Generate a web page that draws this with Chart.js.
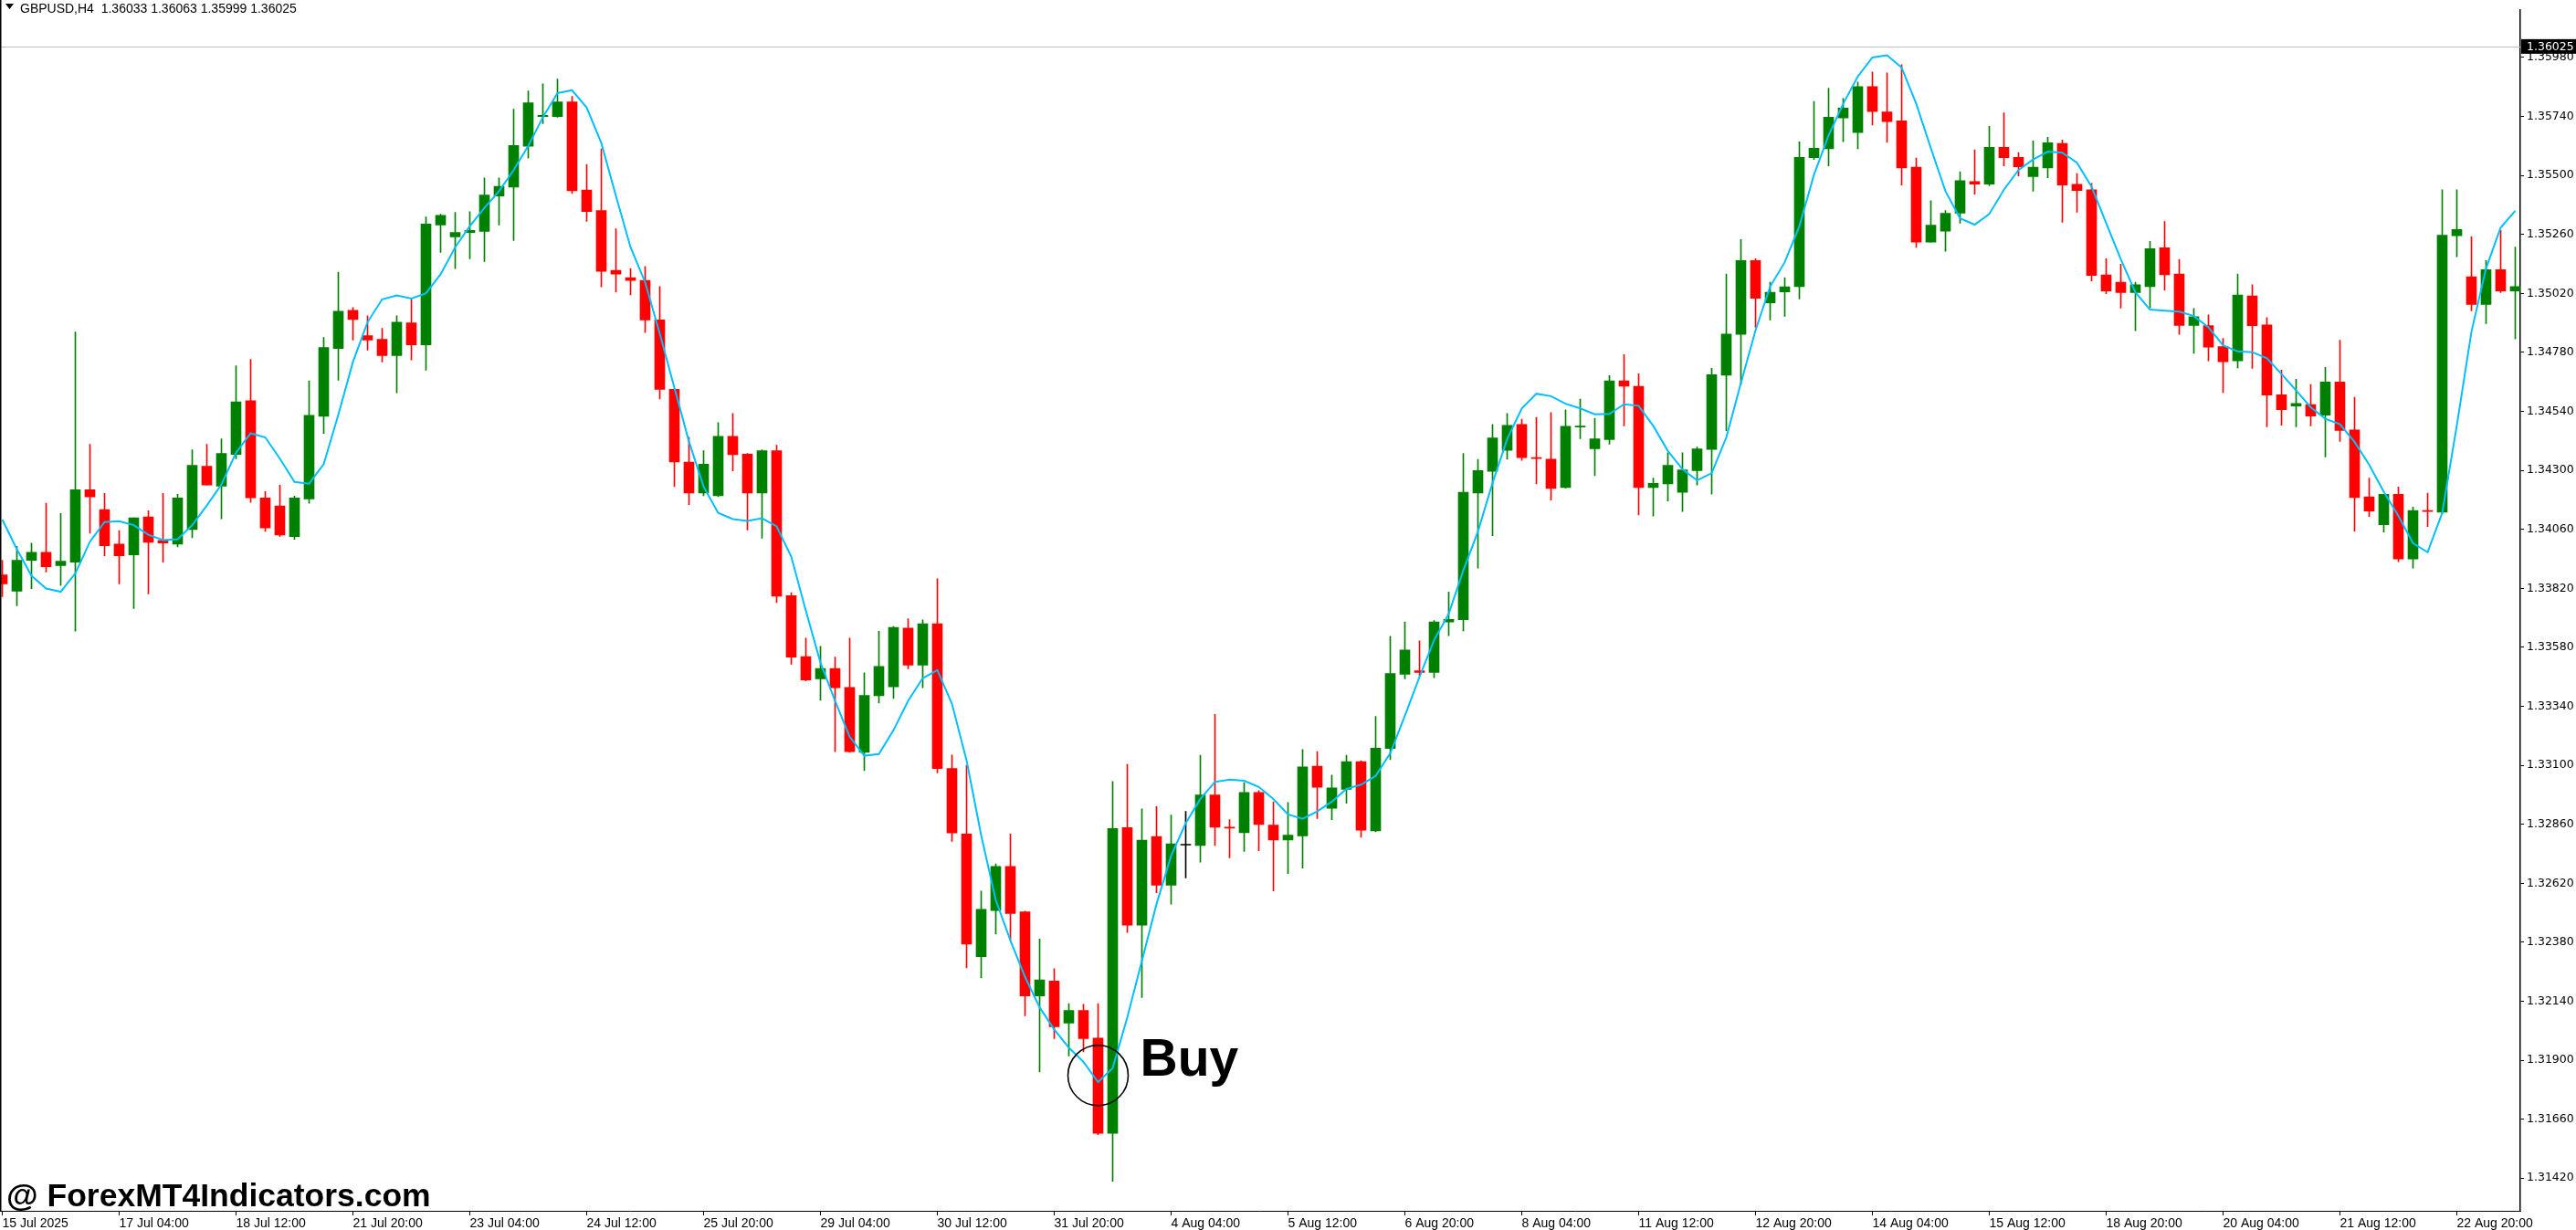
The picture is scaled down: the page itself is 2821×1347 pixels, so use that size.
<!DOCTYPE html>
<html>
<head>
<meta charset="utf-8">
<title>GBPUSD,H4</title>
<script src="https://cdn.jsdelivr.net/npm/chart.js@4.4.1/dist/chart.umd.min.js"></script>
<style>
  html, body { margin: 0; padding: 0; background: #fff; }
  #wrap { width: 2821px; height: 1347px; }
</style>
</head>
<body>
<div id="wrap"><canvas id="gbpChart" width="2821" height="1347"></canvas></div>
<script>
// header / current quote
const symbolTitle = 'GBPUSD,H4';
const headerQuote = ['1.36033', '1.36063', '1.35999', '1.36025'];
const currentPrice = 1.36025;

// H4 candles, 15 Jul 2025 20:00 .. 25 Aug 2025 12:00
const opens = [
  1.33875, 1.33808, 1.33934, 1.33967, 1.33912, 1.33926, 1.34221, 1.34140, 1.34000, 1.33956,
  1.34111, 1.34015, 1.34000, 1.34059, 1.34317, 1.34236, 1.34365, 1.34583, 1.34188, 1.34155,
  1.34030, 1.34184, 1.34520, 1.34796, 1.34951, 1.34848, 1.34833, 1.34767, 1.34900, 1.34811,
  1.35298, 1.35250, 1.35268, 1.35272, 1.35416, 1.35453, 1.35619, 1.35740, 1.35740, 1.35799,
  1.35441, 1.35357, 1.35114, 1.35084, 1.35073, 1.34912, 1.34630, 1.34334, 1.34208, 1.34197,
  1.34439, 1.34366, 1.34208, 1.34380, 1.33790, 1.33542, 1.33452, 1.33494, 1.33417, 1.33153,
  1.33383, 1.33419, 1.33658, 1.33507, 1.33676, 1.33087, 1.32820, 1.32321, 1.32509, 1.32688,
  1.32504, 1.32161, 1.32222, 1.32051, 1.32102, 1.31990, 1.31602, 1.32846, 1.32449, 1.32810,
  1.32612, 1.32775, 1.32774, 1.32979, 1.32848, 1.32826, 1.32989, 1.32857, 1.32796, 1.32813,
  1.33096, 1.32925, 1.33002, 1.33115, 1.32833, 1.33168, 1.33470, 1.33485, 1.33478, 1.33683,
  1.33692, 1.34208, 1.34296, 1.34382, 1.34487, 1.34352, 1.34346, 1.34230, 1.34476, 1.34388,
  1.34425, 1.34664, 1.34642, 1.34230, 1.34245, 1.34211, 1.34299, 1.34385, 1.34687, 1.34853,
  1.35154, 1.34982, 1.35026, 1.35048, 1.35572, 1.35609, 1.35734, 1.35675, 1.35862, 1.35759,
  1.35722, 1.35534, 1.35229, 1.35273, 1.35347, 1.35475, 1.35465, 1.35615, 1.35574, 1.35495,
  1.35531, 1.35630, 1.35464, 1.35442, 1.35095, 1.35066, 1.35023, 1.35048, 1.35206, 1.35099,
  1.34890, 1.34889, 1.34804, 1.34746, 1.35010, 1.34892, 1.34608, 1.34562, 1.34568, 1.34525,
  1.34660, 1.34465, 1.34192, 1.34079, 1.34203, 1.33939, 1.34135, 1.34130, 1.35255, 1.35088,
  1.34975, 1.35117, 1.35030
];
const highs = [
  1.33934, 1.33991, 1.34004, 1.34166, 1.34125, 1.34863, 1.34406, 1.34206, 1.34055, 1.34107,
  1.34136, 1.34206, 1.34203, 1.34384, 1.34406, 1.34428, 1.34726, 1.34752, 1.34214, 1.34240,
  1.34195, 1.34664, 1.34841, 1.35106, 1.34962, 1.34929, 1.34878, 1.34929, 1.34999, 1.35331,
  1.35342, 1.35350, 1.35353, 1.35490, 1.35490, 1.35770, 1.35844, 1.35873, 1.35892, 1.35822,
  1.35545, 1.35608, 1.35283, 1.35121, 1.35130, 1.35048, 1.34632, 1.34435, 1.34380, 1.34494,
  1.34531, 1.34369, 1.34384, 1.34402, 1.33802, 1.33617, 1.33584, 1.33540, 1.33617, 1.33476,
  1.33645, 1.33665, 1.33696, 1.33692, 1.33859, 1.33142, 1.33100, 1.32588, 1.32699, 1.32820,
  1.32506, 1.32393, 1.32272, 1.32130, 1.32127, 1.32130, 1.33034, 1.33104, 1.32923, 1.32932,
  1.32897, 1.32912, 1.33141, 1.33307, 1.32879, 1.33029, 1.32997, 1.32951, 1.32949, 1.33164,
  1.33156, 1.33060, 1.33141, 1.33119, 1.33299, 1.33625, 1.33683, 1.33606, 1.33689, 1.33805,
  1.34369, 1.34345, 1.34487, 1.34531, 1.34508, 1.34516, 1.34535, 1.34546, 1.34590, 1.34512,
  1.34686, 1.34771, 1.34693, 1.34269, 1.34372, 1.34372, 1.34395, 1.34715, 1.35099, 1.35239,
  1.35161, 1.35066, 1.35084, 1.35637, 1.35801, 1.35855, 1.35813, 1.35880, 1.35921, 1.35917,
  1.35951, 1.35571, 1.35397, 1.35357, 1.35515, 1.35604, 1.35700, 1.35755, 1.35593, 1.35641,
  1.35655, 1.35644, 1.35508, 1.35468, 1.35161, 1.35139, 1.35066, 1.35232, 1.35313, 1.35158,
  1.34959, 1.34933, 1.34837, 1.35099, 1.35055, 1.34922, 1.34708, 1.34671, 1.34649, 1.34719,
  1.34830, 1.34597, 1.34269, 1.34203, 1.34232, 1.34151, 1.34207, 1.35442, 1.35442, 1.35250,
  1.35154, 1.35276, 1.35209
];
const lows = [
  1.33786, 1.33749, 1.33819, 1.33886, 1.33832, 1.33646, 1.34044, 1.33952, 1.33838, 1.33738,
  1.33797, 1.33926, 1.33989, 1.34026, 1.34240, 1.34103, 1.34347, 1.34170, 1.34052, 1.34030,
  1.34019, 1.34166, 1.34450, 1.34667, 1.34830, 1.34789, 1.34741, 1.34616, 1.34749, 1.34708,
  1.35187, 1.35121, 1.35161, 1.35150, 1.35298, 1.35235, 1.35571, 1.35711, 1.35737, 1.35427,
  1.35313, 1.35047, 1.35025, 1.35014, 1.34861, 1.34591, 1.34234, 1.34160, 1.34197, 1.34193,
  1.34298, 1.34057, 1.34024, 1.33762, 1.33511, 1.33443, 1.33364, 1.33155, 1.33153, 1.33078,
  1.33353, 1.33372, 1.33493, 1.33415, 1.33069, 1.32790, 1.32276, 1.32235, 1.32413, 1.32387,
  1.32081, 1.31852, 1.31988, 1.31917, 1.31934, 1.31597, 1.31407, 1.32420, 1.32155, 1.32581,
  1.32535, 1.32642, 1.32706, 1.32774, 1.32723, 1.32749, 1.32752, 1.32589, 1.32659, 1.32682,
  1.32883, 1.32879, 1.32945, 1.32807, 1.32829, 1.33123, 1.33452, 1.33465, 1.33456, 1.33627,
  1.33647, 1.33902, 1.34034, 1.34345, 1.34341, 1.34245, 1.34179, 1.34228, 1.34429, 1.34278,
  1.34407, 1.34481, 1.34119, 1.34114, 1.34175, 1.34133, 1.34240, 1.34203, 1.34461, 1.34649,
  1.34882, 1.34912, 1.34927, 1.34997, 1.35565, 1.35539, 1.35637, 1.35609, 1.35705, 1.35635,
  1.35461, 1.35207, 1.35229, 1.35192, 1.35306, 1.35424, 1.35458, 1.35539, 1.35498, 1.35436,
  1.35491, 1.35310, 1.35350, 1.35071, 1.35019, 1.34960, 1.34868, 1.34962, 1.35034, 1.34853,
  1.34776, 1.34746, 1.34617, 1.34717, 1.34715, 1.34477, 1.34484, 1.34477, 1.34481, 1.34355,
  1.34418, 1.34053, 1.34112, 1.34049, 1.33928, 1.33902, 1.34071, 1.34123, 1.35169, 1.34949,
  1.34897, 1.35023, 1.34835
];
const closes = [
  1.33838, 1.33934, 1.33967, 1.33908, 1.33930, 1.34221, 1.34192, 1.33993, 1.33952, 1.34107,
  1.34007, 1.34004, 1.34188, 1.34321, 1.34240, 1.34369, 1.34579, 1.34188, 1.34066, 1.34037,
  1.34188, 1.34524, 1.34800, 1.34948, 1.34914, 1.34830, 1.34767, 1.34903, 1.34811, 1.35302,
  1.35338, 1.35268, 1.35276, 1.35420, 1.35456, 1.35622, 1.35796, 1.35745, 1.35799, 1.35438,
  1.35353, 1.35110, 1.35099, 1.35073, 1.34912, 1.34630, 1.34334, 1.34208, 1.34325, 1.34439,
  1.34364, 1.34208, 1.34380, 1.33788, 1.33540, 1.33447, 1.33494, 1.33415, 1.33155, 1.33384,
  1.33502, 1.33661, 1.33507, 1.33676, 1.33087, 1.32825, 1.32372, 1.32514, 1.32688, 1.32497,
  1.32161, 1.32227, 1.32036, 1.32102, 1.31988, 1.31602, 1.32843, 1.32449, 1.32795, 1.32612,
  1.32780, 1.32775, 1.32979, 1.32848, 1.32844, 1.32989, 1.32859, 1.32796, 1.32816, 1.33093,
  1.33010, 1.33008, 1.33115, 1.32836, 1.33170, 1.33473, 1.33569, 1.33478, 1.33683, 1.33694,
  1.34211, 1.34299, 1.34432, 1.34483, 1.34352, 1.34348, 1.34226, 1.34479, 1.34480, 1.34428,
  1.34664, 1.34643, 1.34230, 1.34247, 1.34321, 1.34302, 1.34387, 1.34689, 1.34855, 1.35154,
  1.35000, 1.35025, 1.35047, 1.35574, 1.35611, 1.35737, 1.35774, 1.35862, 1.35760, 1.35719,
  1.35531, 1.35229, 1.35298, 1.35346, 1.35479, 1.35465, 1.35615, 1.35572, 1.35535, 1.35534,
  1.35633, 1.35461, 1.35439, 1.35093, 1.35030, 1.35023, 1.35055, 1.35202, 1.35096, 1.34890,
  1.34925, 1.34801, 1.34742, 1.35014, 1.34889, 1.34606, 1.34547, 1.34572, 1.34521, 1.34660,
  1.34462, 1.34189, 1.34134, 1.34203, 1.33939, 1.34137, 1.34133, 1.35257, 1.35280, 1.34975,
  1.35117, 1.35030, 1.35048
];
// blue moving average line
const maValues = [
  1.34100, 1.33979, 1.33871, 1.33819, 1.33806, 1.33881, 1.34010, 1.34090, 1.34093, 1.34077,
  1.34038, 1.34016, 1.34020, 1.34077, 1.34157, 1.34243, 1.34372, 1.34451, 1.34434, 1.34348,
  1.34253, 1.34246, 1.34325, 1.34526, 1.34741, 1.34903, 1.34996, 1.35012, 1.34999, 1.35021,
  1.35098, 1.35208, 1.35294, 1.35368, 1.35436, 1.35522, 1.35620, 1.35737, 1.35835, 1.35847,
  1.35776, 1.35632, 1.35417, 1.35208, 1.35065, 1.34857, 1.34637, 1.34417, 1.34234, 1.34127,
  1.34102, 1.34094, 1.34105, 1.34072, 1.33949, 1.33729, 1.33518, 1.33362, 1.33216, 1.33139,
  1.33146, 1.33243, 1.33362, 1.33454, 1.33487, 1.33350, 1.33120, 1.32815, 1.32551, 1.32387,
  1.32239, 1.32115, 1.32025, 1.31951, 1.31893, 1.31811, 1.31868, 1.32074, 1.32304, 1.32535,
  1.32732, 1.32864, 1.32963, 1.33032, 1.33042, 1.33037, 1.33012, 1.32963, 1.32900, 1.32882,
  1.32912, 1.32952, 1.33004, 1.33021, 1.33057, 1.33149, 1.33301, 1.33459, 1.33610, 1.33716,
  1.33893, 1.34051, 1.34249, 1.34427, 1.34552, 1.34612, 1.34602, 1.34571, 1.34552, 1.34528,
  1.34530, 1.34569, 1.34563, 1.34481, 1.34379, 1.34305, 1.34259, 1.34289, 1.34434, 1.34655,
  1.34870, 1.35048, 1.35147, 1.35294, 1.35503, 1.35663, 1.35792, 1.35903, 1.35980, 1.35989,
  1.35939, 1.35792, 1.35611, 1.35436, 1.35325, 1.35300, 1.35343, 1.35442, 1.35522, 1.35565,
  1.35597, 1.35593, 1.35552, 1.35454, 1.35306, 1.35159, 1.35024, 1.34954, 1.34950, 1.34946,
  1.34928, 1.34882, 1.34809, 1.34784, 1.34781, 1.34756, 1.34692, 1.34625, 1.34557, 1.34510,
  1.34488, 1.34416, 1.34323, 1.34213, 1.34115, 1.34004, 1.33967, 1.34127, 1.34483, 1.34864,
  1.35122, 1.35288, 1.35356
];

// time axis: one label every 8 bars
const tickLabels = [
  '15 Jul 2025', '17 Jul 04:00', '18 Jul 12:00', '21 Jul 20:00', '23 Jul 04:00', '24 Jul 12:00',
  '25 Jul 20:00', '29 Jul 04:00', '30 Jul 12:00', '31 Jul 20:00', '4 Aug 04:00', '5 Aug 12:00',
  '6 Aug 20:00', '8 Aug 04:00', '11 Aug 12:00', '12 Aug 20:00', '14 Aug 04:00', '15 Aug 12:00',
  '18 Aug 20:00', '20 Aug 04:00', '21 Aug 12:00', '22 Aug 20:00'
];
const tickEvery = 8;
const priceTicks = [
  1.31420, 1.31660, 1.31900, 1.32140, 1.32380, 1.32620, 1.32860, 1.33100, 1.33340, 1.33580,
  1.33820, 1.34060, 1.34300, 1.34540, 1.34780, 1.35020, 1.35260, 1.35500, 1.35740, 1.35980
];

const buyMark = { index: 75, price: 1.31838, text: 'Buy' };
const watermark = '@ ForexMT4Indicators.com';

const UP = '#008000', DOWN = '#ff0000', FLAT = '#000000';
const candleColors = opens.map((o, i) => closes[i] > o ? UP : (closes[i] < o ? DOWN : FLAT));

const mt4Overlay = {
    id: 'mt4Overlay',
    beforeDatasetsDraw(chart) {
        const { ctx, chartArea, scales } = chart;
        const py = Math.round(scales.y.getPixelForValue(currentPrice)) + 0.5;
        ctx.save();
        ctx.strokeStyle = '#c0c0c0';
        ctx.lineWidth = 1;
        ctx.beginPath();
        ctx.moveTo(chartArea.left, py);
        ctx.lineTo(chartArea.right, py);
        ctx.stroke();
        ctx.restore();
    },
    afterDraw(chart) {
        const { ctx, chartArea, scales } = chart;
        const x = scales.x, y = scales.y;
        ctx.save();

        // left frame line
        ctx.fillStyle = '#000';
        ctx.fillRect(0, 0, 1.5, chartArea.bottom);

        // header
        ctx.beginPath();
        ctx.moveTo(6, 4); ctx.lineTo(15, 4); ctx.lineTo(10.5, 10);
        ctx.closePath();
        ctx.fill();
        ctx.font = '14px "Liberation Sans"';
        ctx.textBaseline = 'alphabetic';
        ctx.textAlign = 'left';
        ctx.fillText(symbolTitle + '  ' + headerQuote.join(' '), 22, 14);

        // current price tag on the axis
        const py = y.getPixelForValue(currentPrice);
        ctx.fillRect(chartArea.right + 1, py - 8, 61, 16);
        ctx.fillStyle = '#fff';
        ctx.font = '12.5px "DejaVu Sans"';
        ctx.textBaseline = 'middle';
        ctx.fillText(currentPrice.toFixed(5), chartArea.right + 7, py + 1);

        // buy marker
        const cx = x.getPixelForValue(buyMark.index);
        const cy = y.getPixelForValue(buyMark.price);
        ctx.strokeStyle = '#000';
        ctx.lineWidth = 1.6;
        ctx.beginPath();
        ctx.arc(cx, cy, 33, 0, Math.PI * 2);
        ctx.stroke();
        ctx.fillStyle = '#000';
        ctx.font = 'bold 57px "Liberation Sans"';
        ctx.textBaseline = 'alphabetic';
        ctx.fillText(buyMark.text, cx + 46, cy);

        // watermark
        ctx.font = 'bold 35.5px "Liberation Sans"';
        ctx.fillText(watermark, 7, 1321);
        ctx.restore();
    }
};

const ctx = document.getElementById('gbpChart');

new Chart(ctx, {
    type: 'bar',
    data: {
        datasets: [
            {
                type: 'line',
                data: maValues.map((v, i) => ({ x: i, y: v })),
                borderColor: '#00bfff',
                borderWidth: 2,
                pointRadius: 0,
                tension: 0,
                order: 0
            },
            {
                data: opens.map((o, i) => ({ x: i, y: [o, closes[i]] })),
                backgroundColor: candleColors,
                barThickness: 11,
                minBarLength: 1,
                grouped: false,
                order: 1
            },
            {
                data: lows.map((l, i) => ({ x: i, y: [l, highs[i]] })),
                backgroundColor: candleColors,
                barThickness: 1,
                grouped: false,
                order: 2
            }
        ]
    },
    options: {
        responsive: false,
        devicePixelRatio: 1,
        animation: false,
        layout: { padding: 0 },
        plugins: {
            legend: { display: false },
            tooltip: { enabled: false }
        },
        scales: {
            x: {
                type: 'linear',
                offset: false,
                min: -2.5 / 16,
                max: 2757.5 / 16,
                grid: { drawOnChartArea: false, offset: false, color: '#000', tickLength: 5 },
                border: { color: '#000', width: 1 },
                afterBuildTicks: scale => {
                    scale.ticks = tickLabels.map((t, i) => ({ value: i * tickEvery }));
                },
                afterFit: scale => { scale.height = 21; },
                ticks: {
                    autoSkip: false,
                    maxRotation: 0,
                    align: 'start',
                    padding: 1,
                    color: '#000',
                    font: { family: 'Liberation Sans', size: 14 },
                    callback: (value, index) => tickLabels[index]
                }
            },
            y: {
                position: 'right',
                min: 1.31287,
                max: 1.36175,
                grid: { drawOnChartArea: false, color: '#000', tickLength: 4 },
                border: { color: '#000', width: 1.5 },
                afterBuildTicks: scale => {
                    scale.ticks = priceTicks.map(v => ({ value: v }));
                },
                afterFit: scale => { scale.width = 61; },
                ticks: {
                    padding: 3,
                    color: '#000',
                    font: { family: 'DejaVu Sans', size: 12.5 },
                    callback: value => value.toFixed(5)
                }
            }
        }
    },
    plugins: [mt4Overlay]
});
</script>
</body>
</html>
